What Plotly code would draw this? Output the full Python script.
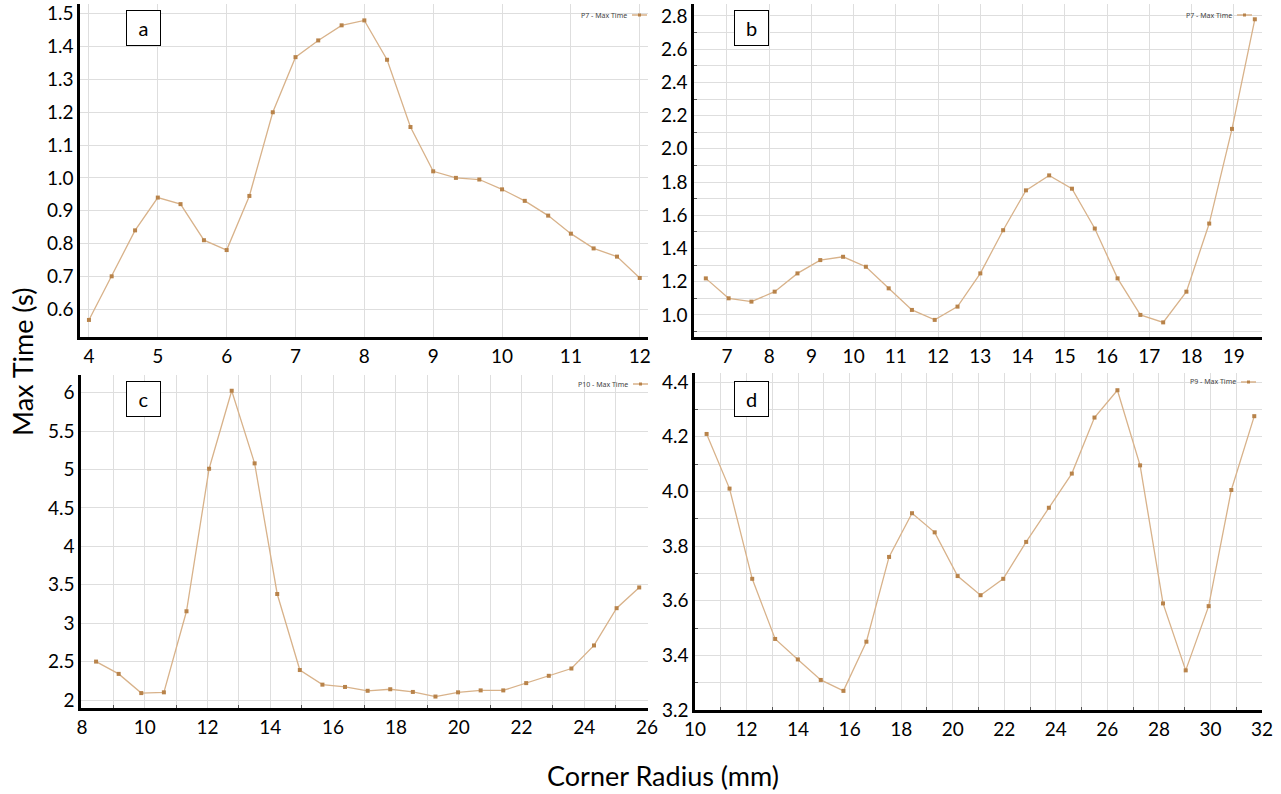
import plotly.graph_objects as go

# ---------------- data ----------------
a_x = [4.00, 4.33, 4.67, 5.00, 5.33, 5.67, 6.00, 6.33, 6.67, 7.00, 7.33, 7.67, 8.00,
       8.33, 8.67, 9.00, 9.33, 9.67, 10.00, 10.33, 10.67, 11.00, 11.33, 11.67, 12.00]
a_y = [0.567, 0.70, 0.84, 0.94, 0.92, 0.81, 0.78, 0.945, 1.20, 1.368, 1.419, 1.465, 1.48,
       1.36, 1.155, 1.02, 1.00, 0.995, 0.965, 0.93, 0.885, 0.83, 0.785, 0.76, 0.695]

b_x = [6.50, 7.04, 7.58, 8.13, 8.67, 9.21, 9.75, 10.29, 10.83, 11.38, 11.92, 12.46, 13.00,
       13.54, 14.08, 14.63, 15.17, 15.71, 16.25, 16.79, 17.33, 17.88, 18.42, 18.96, 19.50]
b_y = [1.22, 1.10, 1.08, 1.14, 1.25, 1.33, 1.35, 1.29, 1.16, 1.03, 0.97, 1.05, 1.25,
       1.51, 1.75, 1.84, 1.76, 1.52, 1.22, 1.00, 0.955, 1.14, 1.55, 2.12, 2.78]

c_x = [8.45, 9.17, 9.89, 10.61, 11.33, 12.05, 12.77, 13.50, 14.22, 14.94, 15.66, 16.38, 17.10,
       17.82, 18.54, 19.26, 19.98, 20.70, 21.42, 22.15, 22.87, 23.59, 24.31, 25.03, 25.75]
c_y = [2.50, 2.34, 2.09, 2.10, 3.155, 5.01, 6.025, 5.08, 3.38, 2.39, 2.20, 2.17, 2.12,
       2.14, 2.105, 2.045, 2.10, 2.125, 2.125, 2.22, 2.315, 2.41, 2.71, 3.195, 3.465]

d_x = [10.45, 11.34, 12.22, 13.11, 13.99, 14.88, 15.76, 16.65, 17.53, 18.42, 19.30, 20.19, 21.08,
       21.96, 22.85, 23.73, 24.62, 25.50, 26.39, 27.27, 28.16, 29.04, 29.93, 30.81, 31.70]
d_y = [4.21, 4.01, 3.68, 3.46, 3.385, 3.31, 3.27, 3.45, 3.76, 3.92, 3.85, 3.69, 3.62,
       3.68, 3.815, 3.94, 4.065, 4.27, 4.37, 4.095, 3.59, 3.345, 3.58, 4.005, 4.275]

panel_letters = ["a", "b", "c", "d"]
series_names = ["P7 - Max Time", "P7 - Max Time", "P10 - Max Time", "P9 - Max Time"]
x_title = "Corner Radius (mm)"
y_title = "Max Time (s)"

# ---------------- style ----------------
W, H = 1281, 794
LINE_C = "#D8B28A"
MARK_C = "#B8834A"
GRID_C = "#DEDEDE"
FONT = "Lato"

def px(x):
    return x / W

def py(y):
    return 1 - y / H

fig = go.Figure()
datasets = [(a_x, a_y), (b_x, b_y), (c_x, c_y), (d_x, d_y)]
for i, (xs, ys) in enumerate(datasets):
    suffix = "" if i == 0 else str(i + 1)
    fig.add_trace(go.Scatter(
        x=xs, y=ys, mode="lines+markers", name=series_names[i],
        xaxis="x" + suffix, yaxis="y" + suffix,
        line=dict(color=LINE_C, width=1.3),
        marker=dict(symbol="square", size=4, color=MARK_C),
        showlegend=False,
    ))

tickfont = dict(family=FONT, size=19, color="black")

def axis(domain, rng, dtick, anchor, fmt=None, minor=None):
    d = dict(domain=domain, range=rng, dtick=dtick, tick0=0, anchor=anchor,
             automargin=False,
             showgrid=True, gridcolor=GRID_C, gridwidth=1,
             showline=True, linecolor="black", linewidth=2.5, mirror=False,
             zeroline=False, ticks="", tickfont=tickfont, fixedrange=True)
    if fmt:
        d["tickformat"] = fmt
    if minor:
        d["minor"] = dict(dtick=minor, tick0=0, showgrid=True, gridcolor=GRID_C,
                          ticks="inside", ticklen=3, tickcolor="#555")
    return d

top_dom = [py(337), py(4)]
left_dom = [px(80), px(648)]
right_dom = [px(694), px(1262)]

fig.update_layout(
    template="none",
    width=W, height=H,
    margin=dict(l=0, r=0, t=0, b=0, pad=0),
    paper_bgcolor="white", plot_bgcolor="white",
    font=dict(family=FONT, color="black"),
    xaxis=axis(left_dom, [3.87, 12.12], 1, "y"),
    yaxis=axis(top_dom, [0.515, 1.53], 0.1, "x", fmt=".1f"),
    xaxis2=axis(right_dom, [6.22, 19.67], 1, "y2"),
    yaxis2=axis(top_dom, [0.867, 2.872], 0.2, "x2", fmt=".1f", minor=0.1),
    xaxis3=axis([px(81), px(648)], [7.97, 26.03], 2, "y3", minor=1),
    yaxis3=axis([py(708), py(375)], [1.896, 6.23], 0.5, "x3"),
    xaxis4=axis([px(695), px(1262)], [10, 32], 2, "y4", minor=1),
    yaxis4=axis([py(710), py(373)], [3.2, 4.433], 0.2, "x4", fmt=".1f", minor=0.1),
)

annotations = []
shapes = []
# panel letters in boxes
letter_pos = [(143, 28), (751, 28), (143, 399), (751, 399)]
for (lx, ly), letter in zip(letter_pos, panel_letters):
    annotations.append(dict(
        x=px(lx), y=py(ly), xref="paper", yref="paper", text=letter,
        xanchor="center", yanchor="middle",
        showarrow=False, font=dict(family=FONT, size=20, color="black"),
        bordercolor="black", borderwidth=1, bgcolor="white",
        width=31, height=32, align="center", valign="middle",
    ))

# small legends (text left of line+marker)
legend_pos = [(629, 15), (1234, 15), (630, 384), (1238, 382)]
for (lx, ly), name in zip(legend_pos, series_names):
    annotations.append(dict(
        x=px(lx), y=py(ly), xref="paper", yref="paper", text=name,
        showarrow=False, xanchor="right", yanchor="middle",
        font=dict(family="Noto Sans", size=7, color="#444"),
    ))
    shapes.append(dict(type="line", xref="paper", yref="paper",
                       x0=px(lx + 3), x1=px(lx + 18), y0=py(ly), y1=py(ly),
                       line=dict(color=LINE_C, width=1.5)))
    shapes.append(dict(type="rect", xref="paper", yref="paper",
                       x0=px(lx + 9), x1=px(lx + 12), y0=py(ly + 1.5), y1=py(ly - 1.5),
                       line=dict(width=0), fillcolor=MARK_C))

# global axis titles
annotations.append(dict(
    x=px(22), y=py(362), xref="paper", yref="paper", text=y_title,
    xanchor="center", yanchor="middle",
    showarrow=False, textangle=-90, font=dict(family=FONT, size=27, color="black"),
))
annotations.append(dict(
    x=px(663), y=py(775), xref="paper", yref="paper", text=x_title,
    xanchor="center", yanchor="middle",
    showarrow=False, font=dict(family=FONT, size=27, color="black"),
))

fig.update_layout(annotations=annotations, shapes=shapes)

fig.write_html("out.html", config={"displayModeBar": False})
